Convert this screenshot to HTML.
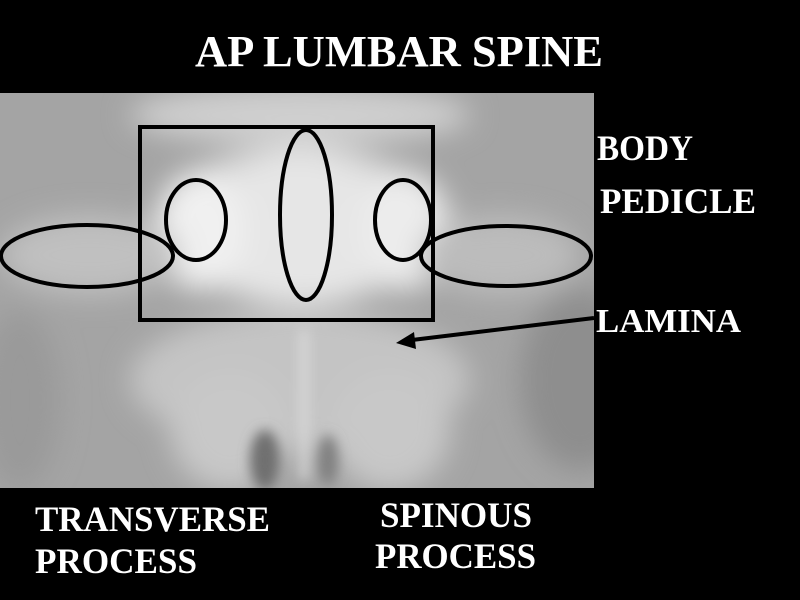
<!DOCTYPE html>
<html><head><style>
html,body{margin:0;padding:0;background:#000;}
svg{display:block;}
text{font-family:"Liberation Serif",serif;font-weight:bold;fill:#fff;}
</style></head><body>
<svg width="800" height="600" viewBox="0 0 800 600">
<defs>
<filter id="b" x="-50%" y="-50%" width="200%" height="200%"><feGaussianBlur stdDeviation="14"/></filter>
<filter id="b2" x="-50%" y="-50%" width="200%" height="200%"><feGaussianBlur stdDeviation="6"/></filter>
<clipPath id="c"><rect x="0" y="93" width="594" height="395"/></clipPath>
</defs>
<rect width="800" height="600" fill="#000"/>
<g clip-path="url(#c)">
<rect x="0" y="93" width="594" height="395" fill="#a4a4a4"/>
<g filter="url(#b)">
<ellipse cx="300" cy="115" rx="170" ry="30" fill="#cfcfcf"/>
<ellipse cx="300" cy="225" rx="140" ry="80" fill="#dcdcdc"/>
<ellipse cx="300" cy="230" rx="90" ry="75" fill="#e6e6e6"/>
<ellipse cx="200" cy="230" rx="45" ry="60" fill="#f0f0f0"/>
<ellipse cx="405" cy="230" rx="45" ry="60" fill="#ececec"/>
<ellipse cx="90" cy="255" rx="90" ry="40" fill="#c0c0c0"/>
<ellipse cx="500" cy="255" rx="80" ry="40" fill="#bcbcbc"/>
<ellipse cx="300" cy="380" rx="170" ry="70" fill="#c4c4c4"/>
<ellipse cx="230" cy="430" rx="60" ry="60" fill="#c8c8c8"/>
<ellipse cx="390" cy="430" rx="60" ry="60" fill="#c8c8c8"/>
<ellipse cx="580" cy="380" rx="60" ry="90" fill="#8e8e8e"/>
<ellipse cx="20" cy="400" rx="40" ry="90" fill="#9a9a9a"/>
</g>
<g filter="url(#b2)">
<ellipse cx="265" cy="460" rx="15" ry="30" fill="#707070"/>
<ellipse cx="328" cy="460" rx="10" ry="25" fill="#808080"/>
<rect x="300" y="330" width="8" height="150" fill="#dadada"/>
</g>
</g>
<g fill="none" stroke="#000" stroke-width="4">
<rect x="140" y="127" width="293" height="193"/>
<ellipse cx="87" cy="256" rx="86" ry="31"/>
<ellipse cx="506" cy="256" rx="85" ry="30"/>
<ellipse cx="196" cy="220" rx="30" ry="40"/>
<ellipse cx="403" cy="220" rx="28" ry="40"/>
<ellipse cx="306" cy="215" rx="26" ry="85"/>
<line x1="594" y1="318" x2="412" y2="340"/>
</g>
<polygon points="396,343 414,332 416,349" fill="#000"/>
<text x="195" y="66" font-size="44" textLength="408" lengthAdjust="spacingAndGlyphs">AP LUMBAR SPINE</text>
<text x="597" y="160" font-size="36" textLength="96" lengthAdjust="spacingAndGlyphs">BODY</text>
<text x="600" y="213" font-size="36" textLength="156" lengthAdjust="spacingAndGlyphs">PEDICLE</text>
<text x="596" y="332" font-size="34" textLength="145" lengthAdjust="spacingAndGlyphs">LAMINA</text>
<text x="35" y="531" font-size="36" textLength="235" lengthAdjust="spacingAndGlyphs">TRANSVERSE</text>
<text x="35" y="573" font-size="36" textLength="162" lengthAdjust="spacingAndGlyphs">PROCESS</text>
<text x="380" y="527" font-size="36" textLength="152" lengthAdjust="spacingAndGlyphs">SPINOUS</text>
<text x="375" y="568" font-size="36" textLength="161" lengthAdjust="spacingAndGlyphs">PROCESS</text>
</svg>
</body></html>
